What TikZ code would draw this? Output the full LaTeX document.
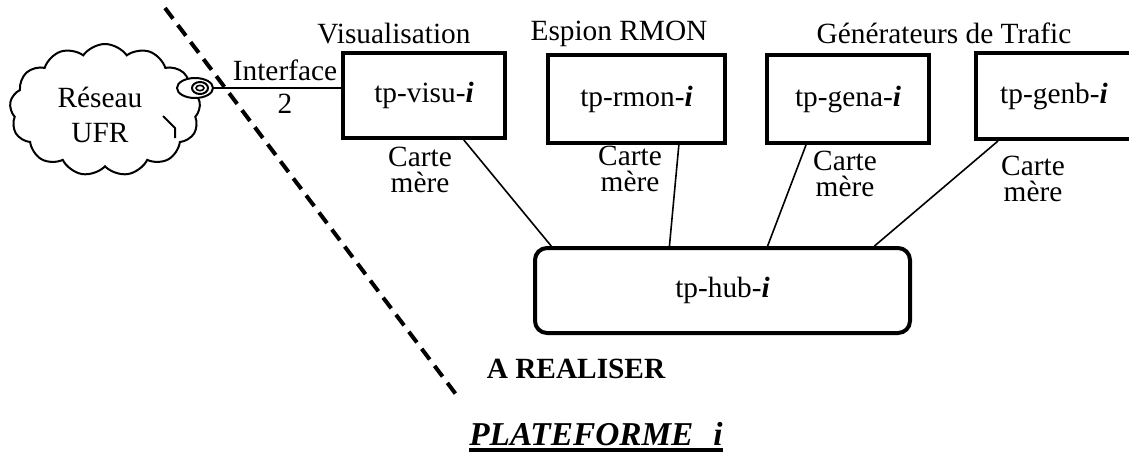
\documentclass[tikz,border=0pt]{standalone}
\usepackage{fontspec}
\setmainfont{Liberation Serif}
\usetikzlibrary{calc,shapes.symbols,shapes.geometric}
\newcommand{\idx}{\textbf{\textit{i}}}
\begin{document}
\begin{tikzpicture}[x=0.75pt,y=-0.75pt,
  lbl/.style={font=\fontsize{22}{26}\selectfont, inner sep=0pt, anchor=base},
  machine/.style={draw, line width=3pt, inner sep=0pt, font=\fontsize{22}{26}\selectfont},
  card/.style={align=center, font=\fontsize{22}{19.5}\selectfont, inner sep=0pt, anchor=north},
  link/.style={line width=1.2pt},
  boundary/.style={line width=3pt, dash pattern=on 10pt off 6pt},
]
\useasboundingbox (0,0) rectangle (1129,455);
\clip (0,0) rectangle (1129,455);

% network cloud and its port
\node[cloud, draw, line width=1.5pt, cloud puffs=13, cloud puff arc=110, cloud ignores aspect,
      minimum width=143pt, minimum height=99pt, inner sep=0pt] (ufr) at (105,110) {};
\draw[line width=1.5pt] (163,116) -- (175,128) -- (175,138);
\node[card, font=\fontsize{22}{26}\selectfont] (ufrtext) at (100,87) {Réseau\\UFR};
\node[ellipse, draw, line width=1.5pt, fill=white, minimum width=27pt, minimum height=15pt, inner sep=0pt] (port) at (195,88) {};
\draw[line width=1.5pt] (200,88) ellipse [x radius=6pt, y radius=4.5pt];
\draw[line width=1.2pt] (200,88) ellipse [x radius=3pt, y radius=2pt];

% machines
\node[machine, minimum width=121.5pt, minimum height=63.75pt] (visu) at (424,95.5) {tp-visu-\idx};
\node[machine, minimum width=132.75pt, minimum height=66pt] (rmon) at (636.5,99) {tp-rmon-\idx};
\node[machine, minimum width=121.5pt, minimum height=66pt] (gena) at (848,99) {tp-gena-\idx};
\node[machine, minimum width=117pt, minimum height=64.5pt] (genb) at (1054,96) {tp-genb-\idx};
\node[machine, rounded corners=9pt, minimum width=281.25pt, minimum height=63.75pt] (hub) at (722.5,290.5) {tp-hub-\idx};

% group titles
\node[lbl] (tvisu) at (394,43) {Visualisation};
\node[lbl] (trmon) at (619,40) {Espion RMON};
\node[lbl] (tgen) at (944,43) {Générateurs de Trafic};

% motherboard labels
\node[card] (cvisu) at (420,147) {Carte\\mère};
\node[card] (crmon) at (630,146) {Carte\\mère};
\node[card] (cgena) at (845,151) {Carte\\mère};
\node[card] (cgenb) at (1033,156) {Carte\\mère};

% interface link
\draw[link] (port.east) -- (port.east -| visu.west);
\node[lbl] (iface) at (285,80) {Interface};
\node[lbl] (ifnum) at (285,113) {2};

% hub links
\draw[link] ($(visu.south west)!0.74!(visu.south east)$) -- ($(hub.north west)!0.048!(hub.north east)$);
\draw[link] ($(rmon.south west)!0.734!(rmon.south east)$) -- ($(hub.north west)!0.36!(hub.north east)$);
\draw[link] ($(gena.south west)!0.247!(gena.south east)$) -- ($(hub.north west)!0.619!(hub.north east)$);
\draw[link] ($(genb.south west)!0.15!(genb.south east)$) -- ($(hub.north west)!0.901!(hub.north east)$);

% boundary of the platform
\coordinate (dtop) at (165,8);
\coordinate (dbot) at (458,397);
\draw[boundary] (dtop) -- (dbot);

\node[lbl, font=\fontsize{22}{26}\selectfont\bfseries] (todo) at (576,378) {A REALISER};
\node[lbl, font=\fontsize{25}{30}\selectfont\bfseries\itshape] (plat) at (596,445) {PLATEFORME\hspace{15pt}i};
\draw[line width=3pt] ([yshift=-4pt]plat.base west) -- ([yshift=-4pt]plat.base east);
\end{tikzpicture}
\end{document}
